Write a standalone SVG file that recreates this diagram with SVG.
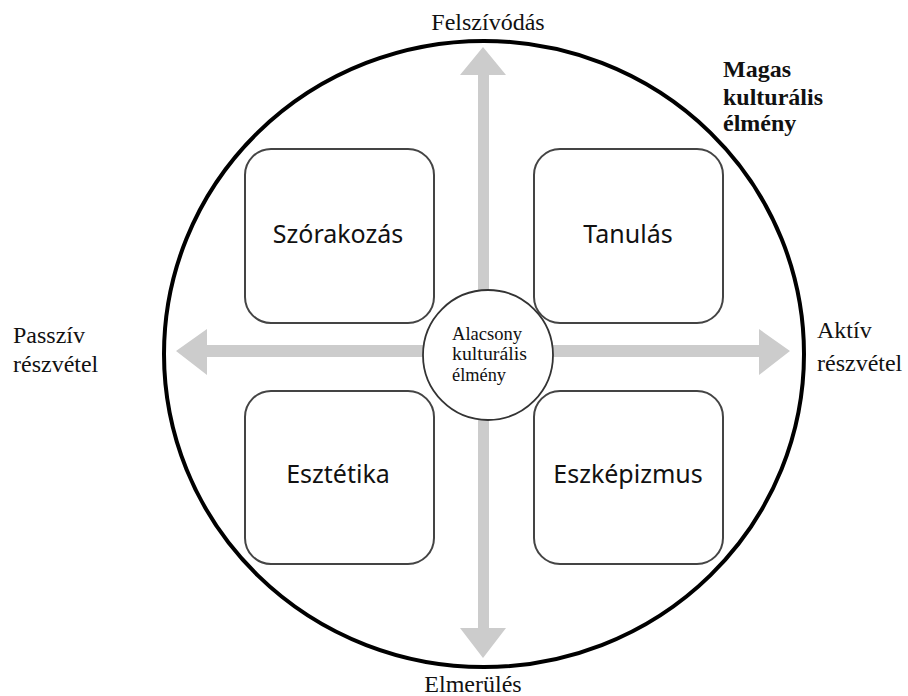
<svg xmlns="http://www.w3.org/2000/svg" width="908" height="696" viewBox="0 0 908 696">
<style>
.lbl{font-family:"Liberation Serif","Times New Roman",serif;font-size:24px;fill:#111}
.box{fill:#fff;stroke:#444;stroke-width:2}
.bt{font-family:"Noto Sans","Open Sans",sans-serif;font-size:25px;fill:#111;text-anchor:middle}
.arr{fill:#cccccc}
</style>
<rect width="908" height="696" fill="#fff"/>
<g id="outer-circle">
<ellipse cx="484" cy="354" rx="320" ry="313" fill="none" stroke="#000" stroke-width="4"/>
</g>
<g id="connectors">
<polygon class="arr" points="478,355 478,75 460,75 483,47 506,75 489,75 489,355"/>
<polygon class="arr" points="478,355 478,628 460,628 483,658 506,628 489,628 489,355"/>
<polygon class="arr" points="488,345 207,345 207,329 176,351 207,375 207,357 488,357"/>
<polygon class="arr" points="488,345 759,345 759,329 790,351 759,375 759,357 488,357"/>
</g>
<g id="box-szorakozas">
<rect class="box" x="245" y="149" width="189" height="174" rx="26"/>
<text class="bt" x="338" y="243">Szórakozás</text>
</g>
<g id="box-tanulas">
<rect class="box" x="534" y="149" width="189" height="174" rx="26"/>
<text class="bt" x="628" y="243">Tanulás</text>
</g>
<g id="box-esztetika">
<rect class="box" x="245" y="391" width="189" height="173" rx="26"/>
<text class="bt" x="338" y="483">Esztétika</text>
</g>
<g id="box-eszkepizmus">
<rect class="box" x="534" y="391" width="189" height="173" rx="26"/>
<text class="bt" x="628" y="483">Eszképizmus</text>
</g>
<g id="center">
<circle cx="488" cy="355" r="65" fill="#fff" stroke="#333" stroke-width="1.8"/>
<text font-family="Liberation Serif,serif" font-size="18" fill="#111">
<tspan x="452" y="340" textLength="70" lengthAdjust="spacingAndGlyphs">Alacsony</tspan>
<tspan x="452" y="360" textLength="75" lengthAdjust="spacingAndGlyphs">kulturális</tspan>
<tspan x="452" y="381" textLength="54" lengthAdjust="spacingAndGlyphs">élmény</tspan>
</text>
</g>
<g id="labels">
<text class="lbl" x="488" y="30" text-anchor="middle">Felszívódás</text>
<text class="lbl" x="473" y="692" text-anchor="middle">Elmerülés</text>
<text class="lbl" x="13" y="343">Passzív</text>
<text class="lbl" x="13" y="372">részvétel</text>
<text class="lbl" x="817" y="338">Aktív</text>
<text class="lbl" x="817" y="371">részvétel</text>
<text class="lbl" font-weight="bold" font-size="25" x="723" y="77">Magas</text>
<text class="lbl" font-weight="bold" font-size="25" x="723" y="105">kulturális</text>
<text class="lbl" font-weight="bold" font-size="25" x="723" y="131">élmény</text>
</g>
</svg>
